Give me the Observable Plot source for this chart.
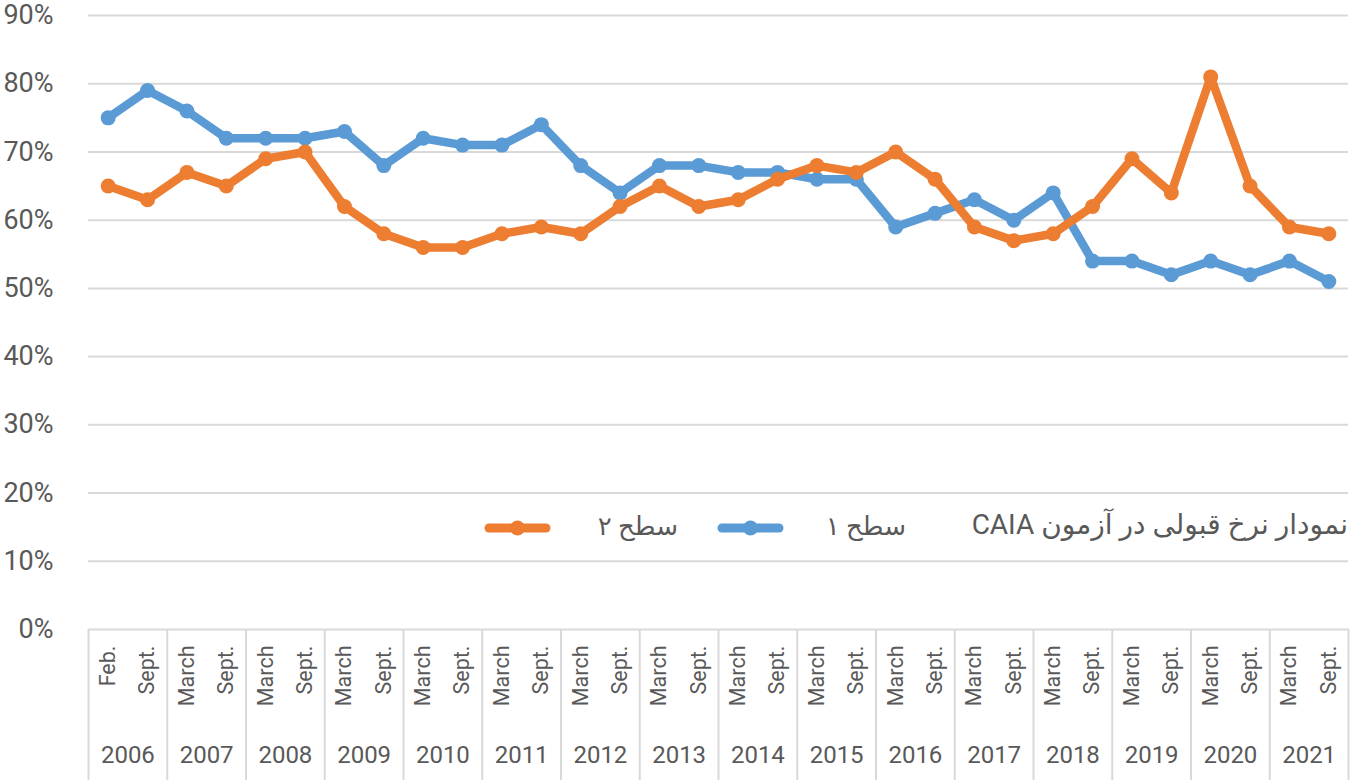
<!DOCTYPE html>
<html>
<head>
<meta charset="utf-8">
<script src="https://cdn.jsdelivr.net/npm/d3@7"></script>
<script src="https://cdn.jsdelivr.net/npm/@observablehq/plot@0.6"></script>
<style>
  html, body { margin: 0; padding: 0; background: #fff; }
  #wrap { position: relative; width: 1351px; height: 780px; font-family: Roboto, "DejaVu Sans", sans-serif; color: #595959; }
  .leg { position: absolute; top: 508px; height: 36px; line-height: 36px; font-size: 26px; white-space: nowrap; font-family: Roboto, "DejaVu Sans", sans-serif; }
  .leg.title { font-size: 28px; top: 507px; }
  .sw { position: absolute; top: 510px; }
</style>
</head>
<body>
<div id="wrap"></div>
<script>
// Exam sessions (one label per session) and the year each pair belongs to
const periods = [
  "Feb.", "Sept.",
  "March", "Sept.", "March", "Sept.", "March", "Sept.", "March", "Sept.",
  "March", "Sept.", "March", "Sept.", "March", "Sept.", "March", "Sept.",
  "March", "Sept.", "March", "Sept.", "March", "Sept.", "March", "Sept.",
  "March", "Sept.", "March", "Sept.", "March", "Sept."
];
const years = ["2006", "2007", "2008", "2009", "2010", "2011", "2012", "2013",
               "2014", "2015", "2016", "2017", "2018", "2019", "2020", "2021"];

// Pass rates (%) per session
const level1 = [75, 79, 76, 72, 72, 72, 73, 68, 72, 71, 71, 74, 68, 64, 68, 68,
                67, 67, 66, 66, 59, 61, 63, 60, 64, 54, 54, 52, 54, 52, 54, 51];
const level2 = [65, 63, 67, 65, 69, 70, 62, 58, 56, 56, 58, 59, 58, 62, 65, 62,
                63, 66, 68, 67, 70, 66, 59, 57, 58, 62, 69, 64, 81, 65, 59, 58];

const yTicks = [0, 0.1, 0.2, 0.3, 0.4, 0.5, 0.6, 0.7, 0.8, 0.9];

const blue = "#5b9bd5";
const orange = "#ed7d31";
const grey = "#d9d9d9";

const rows1 = level1.map((v, i) => ({i, v: v / 100}));
const rows2 = level2.map((v, i) => ({i, v: v / 100}));
const yearRows = years.map((y, j) => ({y, c: 2 * j + 0.5}));
const seps = years.map((_, j) => 2 * j - 0.5).concat([periods.length - 0.5]);

const chart = Plot.plot({
  width: 1351,
  height: 780,
  marginLeft: 88,
  marginRight: 3,
  marginTop: 15,
  marginBottom: 151,
  style: {fontFamily: "Roboto, 'DejaVu Sans', sans-serif", color: "#595959", background: "#fff", overflow: "visible"},
  x: {type: "linear", domain: [-0.5, periods.length - 0.5], axis: null},
  y: {domain: [0, 0.9], axis: null},
  marks: [
    Plot.gridY(yTicks, {stroke: grey, strokeOpacity: 1, strokeWidth: 2}),
    Plot.axisY(yTicks, {tickFormat: d3.format(".0%"), tickSize: 0, tickPadding: 35, fontSize: 27, fill: "#595959", label: null}),
    // year separators in the category axis
    Plot.ruleX(seps, {x: d => d, stroke: grey, strokeWidth: 2, insetTop: 614, insetBottom: -151}),
    // session labels
    Plot.text(periods, {x: (d, i) => i, text: d => d, frameAnchor: "bottom", dy: 16, rotate: -90,
      textAnchor: "end", lineAnchor: "middle", fontSize: 21.5, fill: "#595959"}),
    // year labels
    Plot.text(yearRows, {x: "c", text: "y", frameAnchor: "bottom", dy: 133, fontSize: 24, fill: "#595959"}),
    Plot.line(rows1, {x: "i", y: "v", stroke: blue, strokeWidth: 8.5, strokeLinejoin: "round"}),
    Plot.dot(rows1, {x: "i", y: "v", r: 7.5, fill: blue}),
    Plot.line(rows2, {x: "i", y: "v", stroke: orange, strokeWidth: 8.5, strokeLinejoin: "round"}),
    Plot.dot(rows2, {x: "i", y: "v", r: 7.5, fill: orange})
  ]
});

const wrap = document.getElementById("wrap");
wrap.appendChild(chart);

// Legend laid over the lower part of the plot area
function swatch(color, left, width) {
  const s = document.createElement("div");
  s.className = "sw";
  s.style.left = left + "px";
  s.innerHTML = `<svg width="${width}" height="36"><line x1="5" y1="18" x2="${width - 5}" y2="18" stroke="${color}" stroke-width="9" stroke-linecap="round"/><circle cx="${width / 2}" cy="18" r="7.5" fill="${color}"/></svg>`;
  wrap.appendChild(s);
}
function label(text, right, cls) {
  const t = document.createElement("div");
  t.className = "leg" + (cls ? " " + cls : "");
  t.dir = "rtl";
  t.style.right = right + "px";
  t.textContent = text;
  wrap.appendChild(t);
}
label("نمودار نرخ قبولی در آزمون CAIA", 3, "title");
label("سطح ۱", 1351 - 906);
swatch(blue, 717, 67);
label("سطح ۲", 1351 - 678);
swatch(orange, 484, 67);
</script>
</body>
</html>
